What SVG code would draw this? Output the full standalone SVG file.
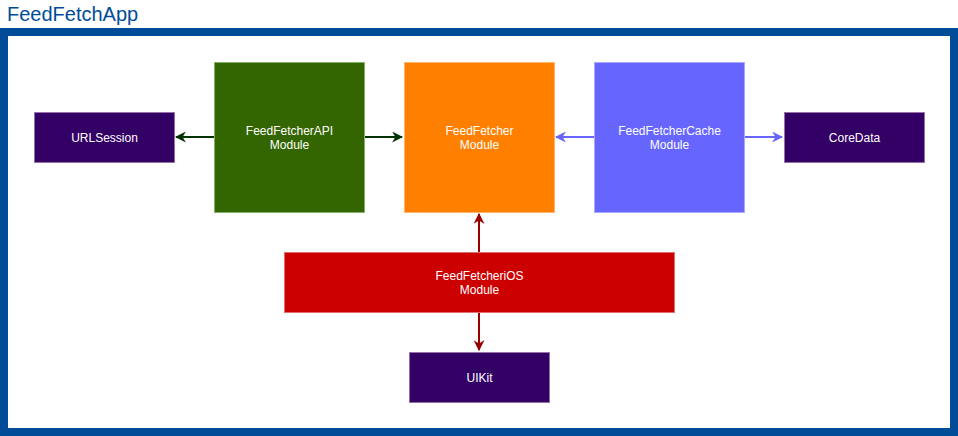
<svg xmlns="http://www.w3.org/2000/svg" width="958" height="436" viewBox="0 0 958 436">
<style>
text{font-family:"Liberation Sans",Arial,sans-serif;}
.lbl{font-size:12px;fill:#ffffff;text-anchor:middle;}
.pur{fill:#330066;stroke:#9673a6;stroke-width:1;}
.edge{fill:none;stroke-width:2;}
</style>
<defs>
<marker id="mg" viewBox="0 0 10 10" refX="9" refY="5" markerWidth="5.5" markerHeight="5.5" markerUnits="strokeWidth" orient="auto"><path d="M0,0 L10,5 L0,10 L3,5 Z" fill="#003300"/></marker>
<marker id="mb" viewBox="0 0 10 10" refX="9" refY="5" markerWidth="5.5" markerHeight="5.5" markerUnits="strokeWidth" orient="auto"><path d="M0,0 L10,5 L0,10 L3,5 Z" fill="#6666ff"/></marker>
<marker id="mr" viewBox="0 0 10 10" refX="9" refY="5" markerWidth="5.5" markerHeight="5.5" markerUnits="strokeWidth" orient="auto"><path d="M0,0 L10,5 L0,10 L3,5 Z" fill="#990000"/></marker>
</defs>
<g id="app">
<text x="7" y="21" style="font-size:20px;fill:#004c99;">FeedFetchApp</text>
<rect x="4" y="32" width="950" height="400" fill="#ffffff" stroke="#004c99" stroke-width="8"/>
</g>
<g id="connectors">
<path class="edge" d="M214,137 L176,137" stroke="#003300" marker-end="url(#mg)"/>
<path class="edge" d="M364,137 L402,137" stroke="#003300" marker-end="url(#mg)"/>
<path class="edge" d="M594,137 L556,137" stroke="#6666ff" marker-end="url(#mb)"/>
<path class="edge" d="M744,137 L782,137" stroke="#6666ff" marker-end="url(#mb)"/>
<path class="edge" d="M479,252 L479,214" stroke="#990000" marker-end="url(#mr)"/>
<path class="edge" d="M479,312 L479,350" stroke="#990000" marker-end="url(#mr)"/>
</g>
<g id="urlsession">
<rect class="pur" x="34.5" y="112.5" width="140" height="50"/>
<text class="lbl" x="104.5" y="142">URLSession</text>
</g>
<g id="api">
<rect x="214.5" y="62.5" width="150" height="150" fill="#336600" stroke="#82b366"/>
<text class="lbl" x="289.5" y="135">FeedFetcherAPI</text>
<text class="lbl" x="289.5" y="149">Module</text>
</g>
<g id="fetcher">
<rect x="404.5" y="62.5" width="150" height="150" fill="#ff8000" stroke="#ffb570"/>
<text class="lbl" x="479.5" y="135">FeedFetcher</text>
<text class="lbl" x="479.5" y="149">Module</text>
</g>
<g id="cache">
<rect x="594.5" y="62.5" width="150" height="150" fill="#6666ff" stroke="#a9a9ff"/>
<text class="lbl" x="669.5" y="135">FeedFetcherCache</text>
<text class="lbl" x="669.5" y="149">Module</text>
</g>
<g id="coredata">
<rect class="pur" x="784.5" y="112.5" width="140" height="50"/>
<text class="lbl" x="854.5" y="142">CoreData</text>
</g>
<g id="ios">
<rect x="284.5" y="252.5" width="390" height="60" fill="#cc0000" stroke="#e07070"/>
<text class="lbl" x="479.5" y="280">FeedFetcheriOS</text>
<text class="lbl" x="479.5" y="294">Module</text>
</g>
<g id="uikit">
<rect class="pur" x="409.5" y="352.5" width="140" height="50"/>
<text class="lbl" x="479.5" y="382">UIKit</text>
</g>
</svg>
